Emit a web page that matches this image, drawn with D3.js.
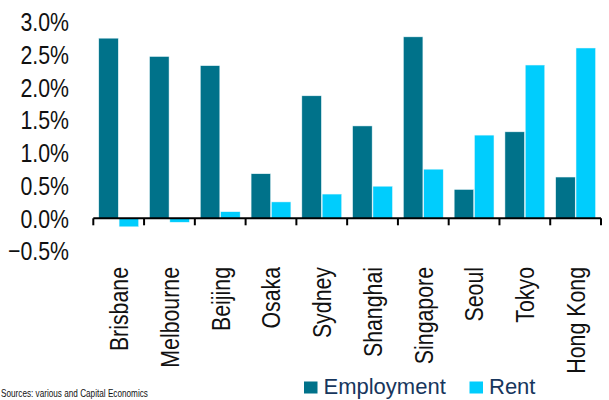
<!DOCTYPE html>
<html>
<head>
<meta charset="utf-8">
<script src="https://cdn.jsdelivr.net/npm/d3@7/dist/d3.min.js"></script>
<style>
  html, body { margin: 0; padding: 0; background: #fff; }
  svg { display: block; }
  text { font-family: "Liberation Sans", Arial, sans-serif; }
</style>
</head>
<body>
<svg id="chart" width="609" height="400"></svg>
<script>
// Annual growth, % — employment vs. rent by city
const cities = ["Brisbane", "Melbourne", "Beijing", "Osaka", "Sydney", "Shanghai", "Singapore", "Seoul", "Tokyo", "Hong Kong"];
const employment = [2.75, 2.47, 2.33, 0.68, 1.87, 1.41, 2.77, 0.44, 1.32, 0.63];
const rent = [-0.13, -0.06, 0.10, 0.25, 0.37, 0.49, 0.75, 1.27, 2.34, 2.60];
const seriesNames = ["Employment", "Rent"];
const seriesColors = ["#00728a", "#00cdfd"];
const yTicks = [-0.5, 0, 0.5, 1.0, 1.5, 2.0, 2.5, 3.0];
const footnote = "Sources: various and Capital Economics";

const svg = d3.select("#chart");
const narrow = 0.82; // horizontal squeeze for the narrow axis typeface

const x = d3.scaleBand().domain(cities).range([93.3, 601]).padding(0);
const xInner = d3.scaleBand().domain(seriesNames).range([0, x.bandwidth()])
  .paddingInner(0.04).paddingOuter(0.27);
const y = d3.scaleLinear().domain([-0.5, 3.0]).range([251.05, 21.8]);

const rows = cities.map((c, i) => ({ city: c, values: [employment[i], rent[i]] }));

// bars
const groups = svg.append("g").selectAll("g")
  .data(rows).join("g")
  .attr("transform", d => `translate(${x(d.city)},0)`);

groups.selectAll("rect")
  .data(d => d.values.map((v, k) => ({ name: seriesNames[k], v, k })))
  .join("rect")
  .attr("x", d => xInner(d.name))
  .attr("width", xInner.bandwidth())
  .attr("y", d => y(Math.max(0, d.v)))
  .attr("height", d => Math.abs(y(d.v) - y(0)))
  .attr("fill", d => seriesColors[d.k])
  .attr("stroke", "#e6f6fa")
  .attr("stroke-width", 0.5);

// y tick labels (no axis line)
const fmt = d3.format(".1f");
svg.append("g").selectAll("text")
  .data(yTicks).join("text")
  .attr("transform", d => `translate(69,${y(d)}) scale(${narrow},1)`)
  .attr("text-anchor", "end")
  .attr("dy", "0.36em")
  .attr("font-size", 26)
  .attr("fill", "#111")
  .text(d => fmt(d) + "%");

// zero line with category boundary ticks
const y0 = y(0);
const bounds = cities.map(c => x(c)).concat([x.range()[1]]);
svg.append("line")
  .attr("x1", x.range()[0]).attr("x2", x.range()[1])
  .attr("y1", y0).attr("y2", y0)
  .attr("stroke", "#000").attr("stroke-width", 2);
svg.append("g").selectAll("line")
  .data(bounds).join("line")
  .attr("x1", d => d).attr("x2", d => d)
  .attr("y1", y0).attr("y2", y0 + 7)
  .attr("stroke", "#000").attr("stroke-width", 2);

// rotated category labels
svg.append("g").selectAll("text")
  .data(cities).join("text")
  .attr("transform", d => `translate(${x(d) + x.bandwidth() / 2},267) rotate(-90) scale(${narrow},1)`)
  .attr("text-anchor", "end")
  .attr("dy", "0.36em")
  .attr("font-size", 26)
  .attr("fill", "#111")
  .text(d => d);

// legend
const legendX = [304, 469.5];
const legend = svg.append("g").selectAll("g")
  .data(seriesNames).join("g")
  .attr("transform", (d, i) => `translate(${legendX[i]},381.5)`);
legend.append("rect")
  .attr("width", 13.5).attr("height", 12)
  .attr("fill", (d, i) => seriesColors[i]);
legend.append("text")
  .attr("x", 19.5).attr("y", 12.8)
  .attr("font-size", 22)
  .attr("fill", "#17365d")
  .text(d => d);

// source note in the bottom-left corner
svg.append("text")
  .attr("transform", `translate(1,397) scale(${narrow},1)`)
  .attr("font-size", 10)
  .attr("fill", "#111")
  .text(footnote);
</script>
</body>
</html>
